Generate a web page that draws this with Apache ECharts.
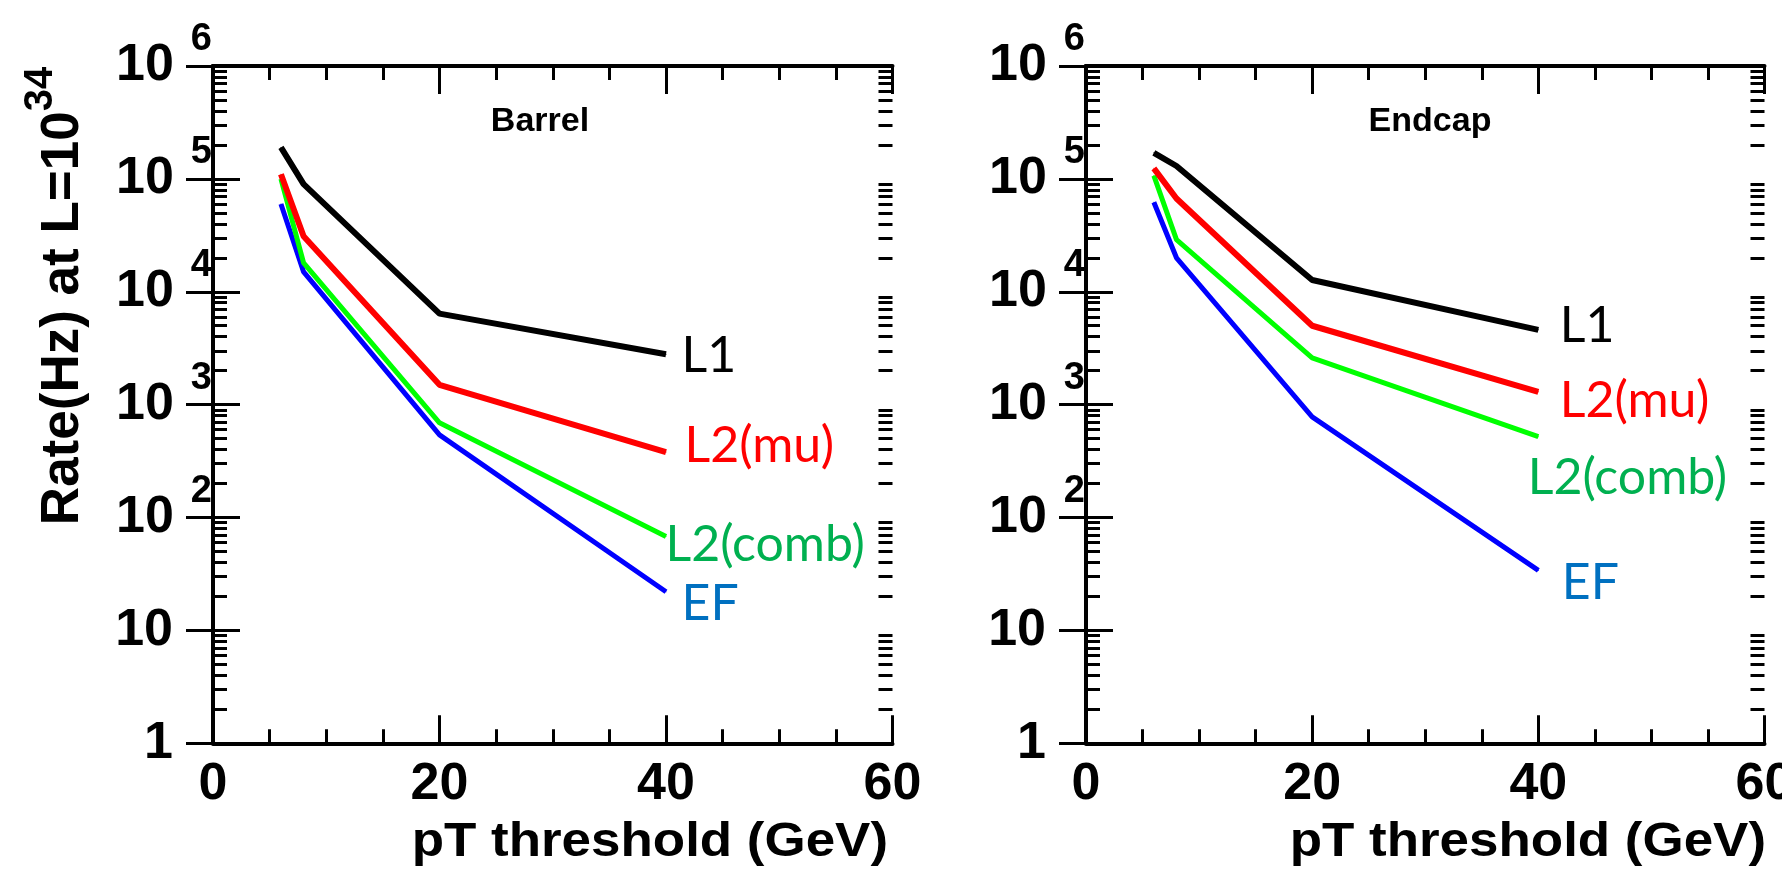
<!DOCTYPE html>
<html><head><meta charset="utf-8">
<script src="https://cdn.jsdelivr.net/npm/echarts@6/dist/echarts.min.js"></script>
<style>html,body{margin:0;padding:0;background:#fff}#c{width:1782px;height:873px}</style>
</head><body><div id="c"></div>
<script>
// ---- data ----
const ptThresholds = [6, 8, 20, 40];
const barrelL1 = [190000, 90000, 6400, 2800];
const barrelL2mu = [110000, 31000, 1500, 380];
const barrelL2comb = [100000, 18000, 690, 68];
const barrelEF = [60000, 15000, 540, 22];
const endcapL1 = [170000, 130000, 12700, 4600];
const endcapL2mu = [124000, 67000, 5000, 1300];
const endcapL2comb = [107000, 29000, 2600, 520];
const endcapEF = [62000, 20000, 780, 34];
const seriesNames = ['L1', 'L2(mu)', 'L2(comb)', 'EF'];
const panelTitles = ['Barrel', 'Endcap'];
const xTitle = 'pT threshold (GeV)';
const yTitleMain = 'Rate(Hz) at L=10';
const yTitleSup = '34';
const xMin = 0, xMax = 60, xInterval = 20;
const yMin = 1, yMax = 1000000;

// ---- styles ----
const lineColors = ['#000000', '#ff0000', '#00ff00', '#0000ff'];
const labelColors = ['#000000', '#ff0000', '#00b050', '#0070c0'];
const lineWidths = [6, 6, 5, 5];
const labelOffsets = [
  [[16, 2], [19, -6], [0, 9], [16, 13]],
  [[22, -3], [22, 10], [-10, 42], [24, 13]]
];
const grids = [
  { left: 213, right: 889.5, top: 66, bottom: 129.7, outerBoundsMode: 'none', containLabel: false },
  { left: 1086, right: 17.5, top: 66, bottom: 129.7, outerBoundsMode: 'none', containLabel: false }
];
const FONT = 'Liberation Sans';

const minorY = [];
for (let d = 1; d < yMax; d *= 10) for (let k = 2; k <= 9; k++) minorY.push(k * d);

function yLabel(v) {
  const e = Math.round(Math.log10(v));
  if (e === 0) return '{b|1}{g| }';
  if (e === 1) return '{b|10}{g| }';
  return '{b|10}{s| }{e|' + e + '}';
}
const yRich = {
  b: { fontSize: 52, fontWeight: 'bold', fontFamily: FONT, lineHeight: 90, color: '#000' },
  s: { width: 17, fontSize: 10, lineHeight: 10 },
  g: { width: 39, fontSize: 10, lineHeight: 10 },
  e: { fontSize: 38, fontWeight: 'bold', fontFamily: FONT, lineHeight: 38, verticalAlign: 'top', color: '#000' }
};

const axisLine = { show: true, lineStyle: { color: '#000', width: 4 } };
const xAxes = [], yAxes = [];
grids.forEach((g, gi) => {
  ['bottom', 'top'].forEach(pos => {
    xAxes.push({
      type: 'value', gridIndex: gi, position: pos, min: xMin, max: xMax, interval: xInterval,
      axisLine,
      axisTick: { show: true, inside: true, length: 28, lineStyle: { color: '#000', width: 3 } },
      minorTick: { show: true, splitNumber: 4, length: 14, lineStyle: { color: '#000', width: 3 } },
      splitLine: { show: false }, minorSplitLine: { show: false },
      axisLabel: pos === 'bottom' ? {
        show: true, margin: 15, fontSize: 52, fontWeight: 'bold', fontFamily: FONT, color: '#000',
        showMinLabel: true, showMaxLabel: true, hideOverlap: false
      } : { show: false }
    });
  });
  ['left', 'right'].forEach(pos => {
    yAxes.push({
      type: 'log', logBase: 10, gridIndex: gi, position: pos, min: yMin, max: yMax,
      axisLine,
      axisTick: { show: true, inside: true, length: 27, lineStyle: { color: '#000', width: 3 } },
      splitLine: { show: false },
      axisLabel: pos === 'left' ? {
        show: true, margin: 1, formatter: yLabel, rich: yRich, showMinLabel: true, showMaxLabel: true, hideOverlap: false
      } : { show: false }
    });
  });
  ['left', 'right'].forEach(pos => {
    yAxes.push({
      type: 'log', logBase: 10, gridIndex: gi, position: pos, min: yMin, max: yMax,
      axisLine: { show: false },
      axisTick: { show: true, inside: true, length: 14, customValues: minorY, lineStyle: { color: '#000', width: 3 } },
      splitLine: { show: false },
      axisLabel: { show: false }
    });
  });
});

const panels = [
  [barrelL1, barrelL2mu, barrelL2comb, barrelEF],
  [endcapL1, endcapL2mu, endcapL2comb, endcapEF]
];
const series = [];
panels.forEach((vals, gi) => {
  vals.forEach((v, i) => {
    series.push({
      type: 'line', name: seriesNames[i], xAxisIndex: gi * 2, yAxisIndex: gi * 4,
      symbol: 'circle', symbolSize: 1, showSymbol: true, silent: true, animation: false,
      z: 10 - i,
      lineStyle: { color: lineColors[i], width: lineWidths[i] },
      itemStyle: { color: lineColors[i] },
      emphasis: { disabled: true },
      label: { show: false },
      data: ptThresholds.map((x, j) => j === ptThresholds.length - 1 ? {
        value: [x, v[j]],
        label: {
          show: true, formatter: seriesNames[i], position: labelOffsets[gi][i],
          align: 'left', verticalAlign: 'middle',
          fontFamily: 'Lato', fontSize: 50, color: labelColors[i]
        }
      } : [x, v[j]])
    });
  });
});

const graphic = [];
panelTitles.forEach((t, gi) => {
  graphic.push({
    type: 'text', x: gi === 0 ? 540 : 1430, y: 122,
    style: { text: t, font: 'bold 34px ' + FONT, fill: '#000', align: 'center', verticalAlign: 'middle' }
  });
  graphic.push({
    type: 'text', x: gi === 0 ? 888 : 1766, y: 842, scaleX: 1.08,
    style: { text: xTitle, font: 'bold 49px ' + FONT, fill: '#000', align: 'right', verticalAlign: 'middle' }
  });
});
graphic.push({
  type: 'text', x: 63, y: 296, rotation: Math.PI / 2,
  style: {
    text: '{m|' + yTitleMain + '}{s|' + yTitleSup + '}', align: 'center', verticalAlign: 'middle',
    rich: {
      m: { fontSize: 53, fontWeight: 'bold', fontFamily: FONT, lineHeight: 84, color: '#000' },
      s: { fontSize: 40, fontWeight: 'bold', fontFamily: FONT, lineHeight: 40, verticalAlign: 'top', color: '#000' }
    }
  }
});

const chart = echarts.init(document.getElementById('c'), null, { renderer: 'canvas' });
chart.setOption({
  animation: false,
  backgroundColor: '#fff',
  grid: grids,
  xAxis: xAxes,
  yAxis: yAxes,
  series,
  graphic
});
</script></body></html>
